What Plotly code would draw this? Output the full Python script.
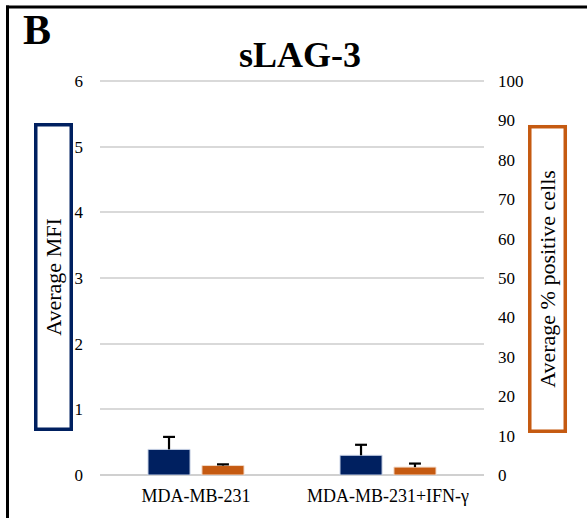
import plotly.graph_objects as go

# Data
categories = ["MDA-MB-231", "MDA-MB-231+IFN-\u03b3"]
mfi_values = [0.39, 0.30]
mfi_err = [0.19, 0.16]
pct_values = [2.4, 2.0]
pct_err = [0.3, 0.9]

left_ticks = [0, 1, 2, 3, 4, 5, 6]
right_ticks = [0, 10, 20, 30, 40, 50, 60, 70, 80, 90, 100]

NAVY = "#002060"
ORANGE = "#C55A11"
GRID = "#d9d9d9"
FONT = "Liberation Serif, Times New Roman, serif"

W, H = 587, 518
L, R, T, B = 100, 103, 79, 40
PW, PH = W - L - R, H - T - B
HEADROOM = 1.005  # a little room above the top gridline so it is drawn

BAR_W = 0.219
BLUE_OFF = -0.25
ORANGE_OFF = 0.031
CAP = 0.031  # half-width of an error-bar cap, in category units


def px(x):
    return (x - L) / PW


def py(y):
    return 1 - (y - T) / PH


xpos = list(range(len(categories)))


def whisker(centers, values, errs):
    xs, ys = [], []
    for c, v, e in zip(centers, values, errs):
        xs += [c, c, None, c - CAP, c + CAP, None]
        ys += [v, v + e, None, v + e, v + e, None]
    return xs, ys


blue_centers = [i + BLUE_OFF + BAR_W / 2 for i in xpos]
orange_centers = [i + ORANGE_OFF + BAR_W / 2 for i in xpos]

fig = go.Figure()
fig.add_trace(go.Bar(
    x=xpos, y=mfi_values, yaxis="y",
    width=BAR_W, offset=BLUE_OFF,
    marker=dict(color=NAVY, line=dict(color="#c9d3e6", width=1)),
    showlegend=False,
))
fig.add_trace(go.Bar(
    x=xpos, y=pct_values, yaxis="y2",
    width=BAR_W, offset=ORANGE_OFF,
    marker=dict(color=ORANGE, line=dict(color="#f2d9c8", width=1)),
    showlegend=False,
))
bx, by = whisker(blue_centers, mfi_values, mfi_err)
fig.add_trace(go.Scatter(
    x=bx, y=by, yaxis="y", mode="lines",
    line=dict(color="black", width=2.2), showlegend=False, hoverinfo="skip",
))
ox, oy = whisker(orange_centers, pct_values, pct_err)
fig.add_trace(go.Scatter(
    x=ox, y=oy, yaxis="y2", mode="lines",
    line=dict(color="black", width=2.2), showlegend=False, hoverinfo="skip",
))

fig.update_layout(
    width=W, height=H,
    margin=dict(l=L, r=R, t=T, b=B),
    paper_bgcolor="white", plot_bgcolor="white",
    font=dict(family=FONT, color="black", size=17),
    barmode="overlay",
    xaxis=dict(
        range=[-0.5, 1.5], tickvals=xpos, ticktext=categories,
        showgrid=False, zeroline=False,
        showline=False, ticks="", tickfont=dict(size=18),
        ticklabelstandoff=8,
    ),
    yaxis=dict(
        range=[0, left_ticks[-1] * HEADROOM], tickvals=left_ticks,
        showgrid=True, gridcolor=GRID, gridwidth=1.5, zeroline=True,
        zerolinecolor="#d0d0d0", zerolinewidth=2,
        showline=False, ticks="", ticklabelstandoff=16,
        tickfont=dict(size=17),
    ),
    yaxis2=dict(
        range=[0, right_ticks[-1] * HEADROOM], tickvals=right_ticks,
        overlaying="y", side="right", showgrid=False, zeroline=False,
        showline=False, ticks="", ticklabelstandoff=13,
        tickfont=dict(size=17),
    ),
    annotations=[
        dict(text="<b>B</b>", x=px(37), y=py(30), xref="paper", yref="paper",
             xanchor="center", yanchor="middle",
             showarrow=False, font=dict(size=42)),
        dict(text="<b>sLAG-3</b>", x=px(300), y=py(55), xref="paper",
             yref="paper", xanchor="center", yanchor="middle",
             showarrow=False, font=dict(size=36)),
        dict(text="Average MFI", x=px(53.5), y=py(279), xref="paper",
             yref="paper", xanchor="center", yanchor="middle",
             showarrow=False, textangle=-90,
             font=dict(size=22), width=301, height=32,
             bordercolor=NAVY, borderwidth=3.5, borderpad=0),
        dict(text="Average % positive cells", x=px(547.5), y=py(281),
             xref="paper", yref="paper", xanchor="center", yanchor="middle",
             showarrow=False, textangle=-90,
             font=dict(size=22), width=301, height=32,
             bordercolor=ORANGE, borderwidth=3.5, borderpad=0),
    ],
    shapes=[
        # outer frame: top edge and left edge
        dict(type="line", xref="paper", yref="paper",
             x0=px(6), x1=px(W + 5), y0=py(6.5), y1=py(6.5),
             line=dict(color="black", width=3)),
        dict(type="line", xref="paper", yref="paper",
             x0=px(7.5), x1=px(7.5), y0=py(5), y1=py(H + 5),
             line=dict(color="black", width=3)),
    ],
)

fig.write_html("out.html")
